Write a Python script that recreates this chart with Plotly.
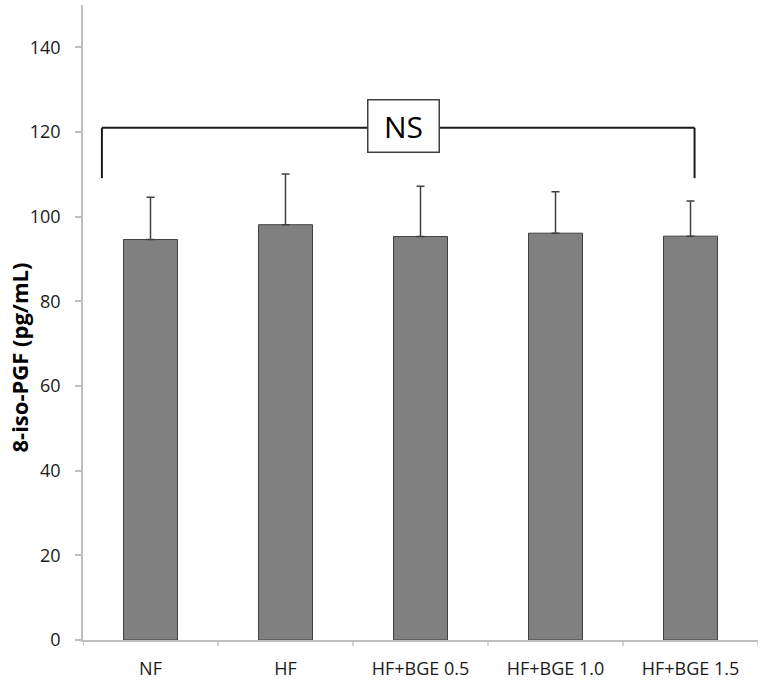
import plotly.graph_objects as go

categories = ["NF", "HF", "HF+BGE 0.5", "HF+BGE 1.0", "HF+BGE 1.5"]
means = [94.6, 98.1, 95.3, 96.1, 95.4]
errors = [10.0, 12.0, 11.9, 9.8, 8.3]
y_tickvals = [0, 20, 40, 60, 80, 100, 120, 140]
y_title = "8-iso-PGF (pg/mL)"
sig_label = "NS"
bracket_top = 121.0
bracket_bottom = 109.1
bracket_left = -0.36
bracket_right = 4.03
sig_x = 1.874
sig_y = 121.5

font_family = "Open Sans, Noto Sans, sans-serif"
axis_color = "#bfbfbf"

fig = go.Figure()
fig.add_trace(go.Bar(
    x=list(range(len(categories))),
    y=means,
    width=0.4,
    marker=dict(color="#808080", line=dict(color="#404040", width=1)),
    error_y=dict(type="data", array=errors, symmetric=False, arrayminus=[0]*len(errors),
                 color="#404040", thickness=1.5, width=4),
    showlegend=False,
))

line_style = dict(color="#1a1a1a", width=2)
fig.add_shape(type="line", xref="x", yref="y", x0=bracket_left, x1=bracket_left,
              y0=bracket_bottom, y1=bracket_top, line=line_style)
fig.add_shape(type="line", xref="x", yref="y", x0=bracket_left, x1=bracket_right,
              y0=bracket_top, y1=bracket_top, line=line_style)
fig.add_shape(type="line", xref="x", yref="y", x0=bracket_right, x1=bracket_right,
              y0=bracket_bottom, y1=bracket_top, line=line_style)

fig.add_annotation(x=sig_x, y=sig_y, xref="x", yref="y", text=sig_label, showarrow=False,
                   font=dict(family=font_family, size=30, color="#000000"),
                   bgcolor="white", bordercolor="#404040", borderwidth=1.5,
                   borderpad=7, width=56, height=37)

# y-axis title as rotated annotation (placed like the original)
fig.add_annotation(x=0, y=0.5, xref="paper", yref="paper", text="<b>" + y_title + "</b>",
                   showarrow=False, textangle=-90, xanchor="center", yanchor="middle",
                   xshift=-65, yshift=-35,
                   font=dict(family=font_family, size=22, color="#000000"))

fig.update_layout(
    width=767, height=687,
    margin=dict(l=83, r=9, t=5, b=47),
    plot_bgcolor="white", paper_bgcolor="white",
    font=dict(family=font_family, size=18, color="#1a1a1a"),
)
fig.update_xaxes(
    tickmode="array", tickvals=list(range(len(categories))), ticktext=categories,
    range=[-0.5, len(categories) - 0.5],
    showline=True, linecolor=axis_color, linewidth=1.5,
    ticks="", showgrid=False, zeroline=False,
    ticklabelstandoff=12, automargin=False,
)
# boundary ticks on x axis
for b in [i - 0.5 for i in range(len(categories) + 1)]:
    fig.add_shape(type="line", xref="x", yref="paper", x0=b, x1=b, y0=0, y1=-0.009,
                  line=dict(color=axis_color, width=1.5))

fig.update_yaxes(
    range=[0, 150], tickvals=y_tickvals,
    showline=True, linecolor=axis_color, linewidth=1.5,
    ticks="outside", ticklen=6, tickcolor=axis_color, tickwidth=1.5,
    showgrid=False, zeroline=False,
    ticklabelstandoff=11, automargin=False,
)

fig.write_html("out.html", config={"displayModeBar": False},
               post_script="document.body.style.margin='0';")
